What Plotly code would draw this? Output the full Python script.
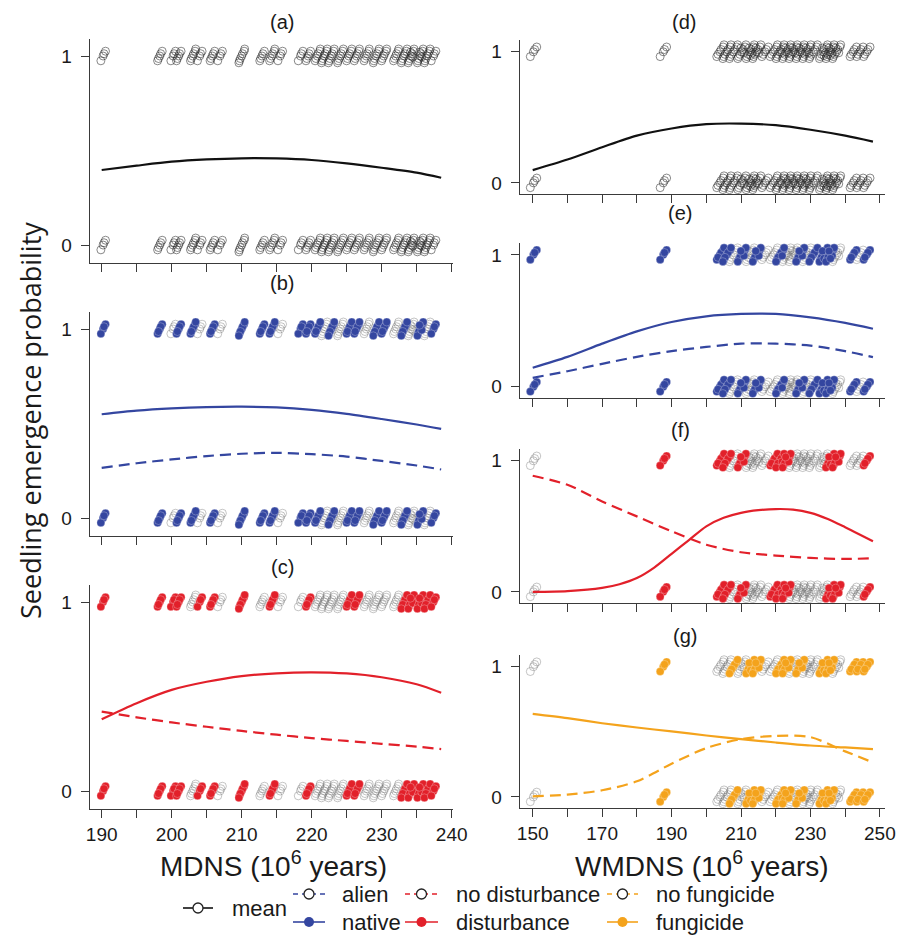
import plotly.graph_objects as go

W, H = 898, 936

# ------------------------------------------------------------------ data
# species positions along MDNS (left column) and replicate counts per outcome
MDNS_SPECIES = [190.2, 198.3, 200.2, 201.0, 203.0, 204.0, 205.8, 206.9, 210.0, 212.9,
                214.3, 215.5, 218.4, 219.5, 220.8, 221.8, 222.8, 224.1, 225.3, 226.4,
                227.8, 229.2, 230.3, 232.0, 233.2, 234.2, 235.5, 236.5, 237.4]
MDNS_COUNT = [4, 5, 4, 5, 6, 4, 5, 4, 7, 5, 6, 4, 4, 5, 6, 7, 7, 7, 6, 6, 6, 7, 6, 6, 7, 9, 9, 7, 4]
NATIVE_B = [1, 1, 0, 1, 1, 0, 1, 0, 1, 1, 1, 0, 1, 1, 1, 0, 1, 0, 1, 1, 0, 1, 1, 0, 1, 0, 1, 0, 1]
DIST_C = [1, 1, 1, 1, 0, 1, 1, 0, 1, 0, 1, 0, 0, 1, 0, 0, 0, 0, 1, 1, 0, 0, 0, 0, 1, 1, 1, 1, 1]

# species positions along WMDNS (right column)
WMDNS_SPECIES = [150.2, 187.6, 203.9, 205.9, 207.8, 210.2, 212.6, 214.5, 216.9, 219.3, 221.2,
                 223.1, 225.0, 227.0, 228.9, 230.8, 233.7, 235.6, 237.5, 242.3, 244.2, 246.2]
WMDNS_COUNT = [4, 4, 6, 7, 7, 9, 10, 9, 5, 6, 8, 9, 9, 9, 9, 7, 10, 10, 9, 5, 5, 5]
NATIVE_E = [1, 1, 1, 1, 0, 1, 0, 1, 0, 0, 1, 0, 0, 1, 0, 1, 1, 1, 0, 1, 0, 1]
DIST_F = [0, 1, 1, 1, 0, 1, 0, 0, 0, 1, 1, 1, 0, 0, 0, 0, 0, 1, 1, 0, 0, 1]
FUNG_G = [0, 1, 0, 0, 1, 0, 1, 1, 0, 0, 1, 1, 0, 1, 0, 0, 1, 1, 0, 1, 1, 1]

OUTCOMES = [0, 1]

# fitted curves
MDNS_GRID = [190, 195, 200, 205, 210, 215, 220, 225, 230, 235, 238.5]
A_MEAN = [0.397, 0.420, 0.441, 0.453, 0.459, 0.458, 0.450, 0.432, 0.409, 0.383, 0.356]
B_NATIVE = [0.549, 0.568, 0.580, 0.587, 0.589, 0.585, 0.572, 0.551, 0.524, 0.495, 0.472]
B_ALIEN = [0.265, 0.290, 0.310, 0.328, 0.340, 0.345, 0.338, 0.325, 0.302, 0.278, 0.257]
C_DIST = [0.380, 0.465, 0.535, 0.578, 0.608, 0.623, 0.628, 0.622, 0.602, 0.565, 0.520]
C_NODIST = [0.420, 0.390, 0.363, 0.340, 0.318, 0.298, 0.280, 0.265, 0.250, 0.235, 0.222]

WMDNS_GRID = [150, 160, 170, 180, 190, 200, 210, 220, 230, 240, 248]
D_MEAN = [0.097, 0.178, 0.272, 0.360, 0.415, 0.448, 0.452, 0.440, 0.405, 0.360, 0.315]
E_NATIVE = [0.144, 0.227, 0.327, 0.420, 0.491, 0.534, 0.552, 0.552, 0.526, 0.484, 0.440]
E_ALIEN = [0.068, 0.118, 0.174, 0.227, 0.270, 0.302, 0.327, 0.327, 0.312, 0.270, 0.225]
F_NODIST = [0.886, 0.817, 0.690, 0.576, 0.462, 0.360, 0.302, 0.277, 0.259, 0.251, 0.256]
G_FUNG = [0.638, 0.605, 0.566, 0.533, 0.503, 0.472, 0.444, 0.418, 0.395, 0.380, 0.367]
G_NOFUNG = [0.005, 0.018, 0.051, 0.120, 0.255, 0.375, 0.444, 0.469, 0.459, 0.350, 0.265]

# the disturbance curve in (f) bends sharply, so it was read at a finer spacing
F_GRID = [150, 160, 170, 175, 180, 185, 190, 195, 200, 205, 210, 215, 220, 225, 230, 235, 240, 244, 248]
F_DIST = [0.000, 0.006, 0.030, 0.058, 0.105, 0.185, 0.290, 0.395, 0.500, 0.565, 0.603, 0.623,
          0.632, 0.628, 0.603, 0.556, 0.493, 0.440, 0.386]

X_TICKS_L = [190, 195, 200, 205, 210, 215, 220, 225, 230, 235, 240]
X_TICKS_R = [150, 160, 170, 180, 190, 200, 210, 220, 230, 240, 250]
Y_TICKS = [0, 1]

# ------------------------------------------------------------------ style
BLUE = "#3446A0"
RED = "#E2202A"
ORANGE = "#F4A31C"
AXC = "#3a3a3a"
TXT = "#1a1a1a"
SANS = "Liberation Sans, Arial, sans-serif"

# small display jitter offsets (pixels) so replicates do not overprint
JIT_X_PX = [0.0, 2.4, -2.2, 0.9, -1.3, 3.0, -2.8, 1.6, -0.6, 0.4]
JIT_Y_PX = [0.0, 4.8, -4.8, 2.3, -2.5, 7.0, -6.8, -1.0, 3.8, -3.6]

# layout in pixels
LEFT_X = (90, 453, 188.33, 240.19)    # px0, px1, data0, data1
RIGHT_X = (520, 885, 146.34, 251.47)
LEFT_YR = (-0.095, 1.09)
RIGHT_YR = (-0.085, 1.09)
PANELS = {
    "a": dict(col="L", top=39, bot=263, title=(282, 22)),
    "b": dict(col="L", top=312, bot=536, title=(282, 283)),
    "c": dict(col="L", top=585, bot=809, title=(282, 567)),
    "d": dict(col="R", top=40, bot=194, title=(684, 22)),
    "e": dict(col="R", top=243, bot=398, title=(680, 213)),
    "f": dict(col="R", top=449, bot=603, title=(680, 430)),
    "g": dict(col="R", top=655, bot=808, title=(685, 636)),
}
ORDER = ["a", "b", "c", "d", "e", "f", "g"]


def px(x):
    return x / W


def py(y):
    return 1 - y / H


def text_at(text, x, y, size, family=SANS, xanchor="center", angle=0):
    return dict(text=text, x=px(x), y=py(y), xref="paper", yref="paper",
                xanchor=xanchor, yanchor="middle", showarrow=False, textangle=angle,
                font=dict(family=family, size=size, color=TXT))


fig = go.Figure()
layout = dict(width=W, height=H, margin=dict(l=0, r=0, t=0, b=0, pad=0, autoexpand=False),
              paper_bgcolor="white", plot_bgcolor="white", showlegend=False)
annotations = []
shapes = []

for i, key in enumerate(ORDER):
    p = PANELS[key]
    n = "" if i == 0 else str(i + 1)
    xc = LEFT_X if p["col"] == "L" else RIGHT_X
    yr = LEFT_YR if p["col"] == "L" else RIGHT_YR
    bottom = key in ("c", "g")
    if p["col"] == "L":
        tv = X_TICKS_L
        tt = [str(v) if (v % 10 == 0 and bottom) else " " for v in tv]
    else:
        tv = X_TICKS_R
        tt = [str(v) if ((v - 150) % 20 == 0 and bottom) else " " for v in tv]
    layout["xaxis" + n] = dict(
        domain=[px(xc[0]), px(xc[1])], range=[xc[2], xc[3]], anchor="y" + n,
        showline=True, linecolor=AXC, linewidth=1.4, ticks="outside", ticklen=8,
        tickwidth=1.4, tickcolor=AXC, tickmode="array", tickvals=tv, ticktext=tt,
        showgrid=False, zeroline=False, automargin=False,
        tickfont=dict(family=SANS, size=19, color=TXT))
    layout["yaxis" + n] = dict(
        domain=[py(p["bot"]), py(p["top"])], range=list(yr), anchor="x" + n,
        showline=True, linecolor=AXC, linewidth=1.4, ticks="outside", ticklen=8,
        tickwidth=1.4, tickcolor=AXC, tickmode="array", tickvals=Y_TICKS,
        ticktext=["0 ", "1 "], showgrid=False, zeroline=False, automargin=False,
        tickfont=dict(family=SANS, size=19, color=TXT))
    annotations.append(text_at("(" + key + ")", p["title"][0], p["title"][1], 20))


def axis_ids(key):
    i = ORDER.index(key)
    n = "" if i == 0 else str(i + 1)
    return "x" + n, "y" + n


def scale(key):
    p = PANELS[key]
    xc = LEFT_X if p["col"] == "L" else RIGHT_X
    yr = LEFT_YR if p["col"] == "L" else RIGHT_YR
    xs = (xc[3] - xc[2]) / (xc[1] - xc[0])
    ys = (yr[1] - yr[0]) / (p["bot"] - p["top"])
    if p["col"] == "R":
        xs *= 1.4   # wider display spread for the denser right column
    return xs, ys


def points(key, species, counts, flags, want):
    xs, ys = scale(key)
    xx, yy = [], []
    for s, c, f in zip(species, counts, flags):
        if f != want:
            continue
        for o in OUTCOMES:
            for k in range(c):
                xx.append(s + JIT_X_PX[k % len(JIT_X_PX)] * xs)
                yy.append(o + JIT_Y_PX[k % len(JIT_Y_PX)] * ys)
    return xx, yy


def add_open(key, species, counts, flags, want, color):
    xa, ya = axis_ids(key)
    xx, yy = points(key, species, counts, flags, want)
    fig.add_trace(go.Scatter(x=xx, y=yy, mode="markers", xaxis=xa, yaxis=ya,
                             marker=dict(symbol="circle-open", size=8, color=color,
                                         line=dict(width=1)), hoverinfo="skip"))


def add_filled(key, species, counts, flags, want, color):
    xa, ya = axis_ids(key)
    xx, yy = points(key, species, counts, flags, want)
    fig.add_trace(go.Scatter(x=xx, y=yy, mode="markers", xaxis=xa, yaxis=ya,
                             marker=dict(symbol="circle", size=8, color=color,
                                         line=dict(width=0.6, color="rgba(255,255,255,0.45)")),
                             hoverinfo="skip"))


def add_curve(key, gx, gy, color, dash="solid", width=2.2):
    xa, ya = axis_ids(key)
    fig.add_trace(go.Scatter(x=gx, y=gy, mode="lines", xaxis=xa, yaxis=ya,
                             line=dict(color=color, width=width, dash=dash, shape="spline",
                                       smoothing=0.8), hoverinfo="skip"))


DARK_OPEN = "rgba(40,40,40,0.55)"
LIGHT_OPEN = "rgba(110,110,110,0.40)"
DASH = "11px,6px"

ones_L = [1] * len(MDNS_SPECIES)
ones_R = [1] * len(WMDNS_SPECIES)

# (a)
add_open("a", MDNS_SPECIES, MDNS_COUNT, ones_L, 1, DARK_OPEN)
add_curve("a", MDNS_GRID, A_MEAN, "#111111")
# (b)
add_open("b", MDNS_SPECIES, MDNS_COUNT, NATIVE_B, 0, LIGHT_OPEN)
add_filled("b", MDNS_SPECIES, MDNS_COUNT, NATIVE_B, 1, BLUE)
add_curve("b", MDNS_GRID, B_NATIVE, BLUE)
add_curve("b", MDNS_GRID, B_ALIEN, BLUE, DASH)
# (c)
add_open("c", MDNS_SPECIES, MDNS_COUNT, DIST_C, 0, LIGHT_OPEN)
add_filled("c", MDNS_SPECIES, MDNS_COUNT, DIST_C, 1, RED)
add_curve("c", MDNS_GRID, C_DIST, RED)
add_curve("c", MDNS_GRID, C_NODIST, RED, DASH)
# (d)
add_open("d", WMDNS_SPECIES, WMDNS_COUNT, ones_R, 1, DARK_OPEN)
add_curve("d", WMDNS_GRID, D_MEAN, "#111111")
# (e)
add_open("e", WMDNS_SPECIES, WMDNS_COUNT, NATIVE_E, 0, LIGHT_OPEN)
add_filled("e", WMDNS_SPECIES, WMDNS_COUNT, NATIVE_E, 1, BLUE)
add_curve("e", WMDNS_GRID, E_NATIVE, BLUE)
add_curve("e", WMDNS_GRID, E_ALIEN, BLUE, DASH)
# (f)
add_open("f", WMDNS_SPECIES, WMDNS_COUNT, DIST_F, 0, LIGHT_OPEN)
add_filled("f", WMDNS_SPECIES, WMDNS_COUNT, DIST_F, 1, RED)
add_curve("f", F_GRID, F_DIST, RED)
add_curve("f", WMDNS_GRID, F_NODIST, RED, DASH)
# (g)
add_open("g", WMDNS_SPECIES, WMDNS_COUNT, FUNG_G, 0, LIGHT_OPEN)
add_filled("g", WMDNS_SPECIES, WMDNS_COUNT, FUNG_G, 1, ORANGE)
add_curve("g", WMDNS_GRID, G_FUNG, ORANGE)
add_curve("g", WMDNS_GRID, G_NOFUNG, ORANGE, DASH)

# axis titles
annotations.append(text_at("MDNS (10<sup>6</sup> years)", 273, 864, 28))
annotations.append(text_at("WMDNS (10<sup>6</sup> years)", 702, 864, 28))
annotations.append(text_at("Seedling emergence probability", 31, 421, 27,
                           family="Open Sans, sans-serif", angle=-90))

# ------------------------------------------------------------------ legend (manual, shapes)
LEG = [
    # label, color, dashed, filled, symbol x-range, text x, row y
    ("mean", "#111111", False, False, (183, 213), 230, 908),
    ("alien", BLUE, True, False, (293, 325), 340, 894),
    ("native", BLUE, False, True, (293, 325), 340, 922),
    ("no disturbance", RED, True, False, (405, 438), 454, 894),
    ("disturbance", RED, False, True, (405, 438), 454, 922),
    ("no fungicide", ORANGE, True, False, (607, 638), 654, 894),
    ("fungicide", ORANGE, False, True, (607, 638), 654, 922),
]
for label, col, dashed, filled, (x0, x1), tx, ry in LEG:
    shapes.append(dict(type="line", xref="paper", yref="paper", x0=px(x0), x1=px(x1),
                       y0=py(ry), y1=py(ry),
                       line=dict(color=col, width=1.6, dash="5px,4px" if dashed else "solid")))
    xm = (x0 + x1) / 2
    r = 5
    shapes.append(dict(type="circle", xref="paper", yref="paper",
                       x0=px(xm - r), x1=px(xm + r), y0=py(ry + r), y1=py(ry - r),
                       fillcolor=col if filled else "white",
                       line=dict(width=0 if filled else 1.3, color=col if filled else "#222222")))
    annotations.append(text_at(label, tx, ry, 22, xanchor="left"))

layout["annotations"] = annotations
layout["shapes"] = shapes
fig.update_layout(**layout)
fig.write_html("out.html", config={"displayModeBar": False},
               post_script="document.body.style.margin='0';document.body.style.overflow='hidden';")
